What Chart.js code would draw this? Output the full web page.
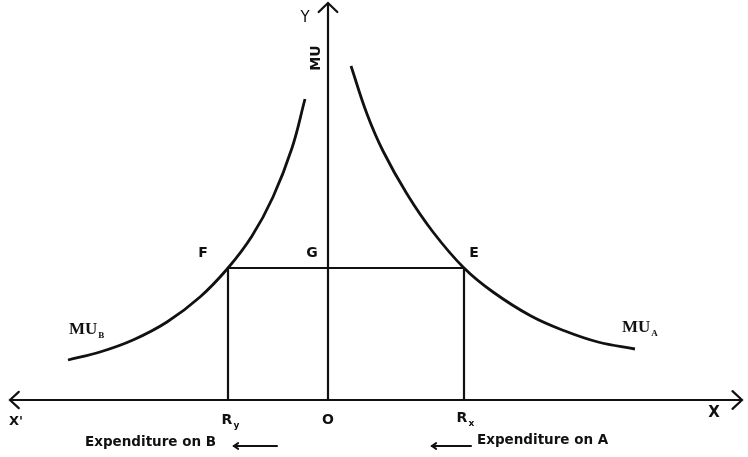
<!DOCTYPE html>
<html>
<head>
<meta charset="utf-8">
<script src="https://cdn.jsdelivr.net/npm/chart.js@4.4.1/dist/chart.umd.min.js"></script>
<style>
  html, body { margin: 0; padding: 0; background: #ffffff; }
  canvas { display: block; }
</style>
</head>
<body>
<canvas id="chart" width="748" height="457"></canvas>
<script>
// expenditure on B runs to the left of O, expenditure on A to the right
const MU_B_SPENDING = [-26.0, -22.8, -19.5, -16.1, -12.8, -10.0, -7.6, -5.5, -3.6, -2.3];
const MU_B_UTILITY  = [4.0, 4.8, 6.0, 7.8, 10.3, 13.2, 16.4, 20.3, 25.2, 30.1];

const MU_A_SPENDING = [2.3, 3.9, 5.5, 7.9, 10.5, 13.6, 16.5, 20.3, 23.7, 27.0, 30.7];
const MU_A_UTILITY  = [33.4, 28.6, 24.9, 20.6, 16.8, 13.2, 10.8, 8.4, 6.9, 5.8, 5.1];

const R_Y = -10.0;
const R_X = 13.6;
const G_LEVEL = 13.2;

const X_AXIS_SPAN = [-31.8, 41.4];
const Y_AXIS_TOP = 39.7;

const INK = '#111111';
const SANS = '"DejaVu Sans", Arial, sans-serif';
const SERIF = '"Liberation Serif", "Times New Roman", serif';

function toPoints(xs, ys) {
  return xs.map((x, i) => ({ x, y: ys[i] }));
}

function lineSet(data, width, curved) {
  return {
    data,
    borderColor: INK,
    borderWidth: width,
    pointRadius: 0,
    tension: curved ? 0.4 : 0,
    fill: false
  };
}

function drawLabel(ctx, text, sub, x, y, font, subFont, align) {
  ctx.font = font;
  ctx.textAlign = align || 'center';
  ctx.textBaseline = 'middle';
  ctx.fillText(text, x, y);
  if (sub) {
    const w = ctx.measureText(text).width;
    const left = align === 'left' ? x + w : x + w / 2;
    ctx.font = subFont;
    ctx.textAlign = 'left';
    ctx.fillText(sub, left + 1, y + 6);
  }
}

function chevron(ctx, tipX, tipY, dx, dy, len, spread) {
  // open arrowhead: two arms going back from the tip
  const ang = Math.atan2(dy, dx);
  ctx.beginPath();
  ctx.moveTo(tipX - len * Math.cos(ang - spread), tipY - len * Math.sin(ang - spread));
  ctx.lineTo(tipX, tipY);
  ctx.lineTo(tipX - len * Math.cos(ang + spread), tipY - len * Math.sin(ang + spread));
  ctx.stroke();
}

const diagramLabels = {
  id: 'diagramLabels',
  afterDatasetsDraw(chart) {
    const { ctx, scales } = chart;
    const px = (v) => scales.x.getPixelForValue(v);
    const py = (v) => scales.y.getPixelForValue(v);
    ctx.save();
    ctx.strokeStyle = INK;
    ctx.fillStyle = INK;
    ctx.lineWidth = 2.2;
    ctx.lineCap = 'round';

    chevron(ctx, px(X_AXIS_SPAN[1]), py(0), 1, 0, 13, 0.75);
    chevron(ctx, px(X_AXIS_SPAN[0]), py(0), -1, 0, 12, 0.75);
    chevron(ctx, px(0), py(Y_AXIS_TOP), 0, -1, 13, 0.8);

    // small arrows next to the expenditure captions
    ctx.lineWidth = 2;
    ctx.beginPath();
    ctx.moveTo(px(-5.1), py(-4.6));
    ctx.lineTo(px(-9.4), py(-4.6));
    ctx.stroke();
    chevron(ctx, px(-9.4), py(-4.6), -1, 0, 5, 0.6);
    ctx.beginPath();
    ctx.moveTo(px(14.3), py(-4.6));
    ctx.lineTo(px(10.4), py(-4.6));
    ctx.stroke();
    chevron(ctx, px(10.4), py(-4.6), -1, 0, 5, 0.6);

    const bold = `bold 14px ${SANS}`;
    const small = `bold 9px ${SANS}`;
    drawLabel(ctx, 'Y', null, px(-2.3), py(38.2), `15px ${SANS}`);
    drawLabel(ctx, 'F', null, px(-12.5), py(14.7), bold);
    drawLabel(ctx, 'G', null, px(-1.6), py(14.7), bold);
    drawLabel(ctx, 'E', null, px(14.6), py(14.7), bold);
    drawLabel(ctx, 'X\'', null, px(-31.2), py(-2.2), `bold 13px ${SANS}`);
    drawLabel(ctx, 'R', 'y', px(-10.1), py(-2.0), bold, small);
    drawLabel(ctx, 'O', null, px(0), py(-2.0), bold);
    drawLabel(ctx, 'R', 'x', px(13.4), py(-1.8), bold, small);
    drawLabel(ctx, 'X', null, px(38.6), py(-1.3), `bold 15px ${SANS}`);
    drawLabel(ctx, 'Expenditure on B', null, px(-24.3), py(-4.2), `bold 13.5px ${SANS}`, null, 'left');
    drawLabel(ctx, 'Expenditure on A', null, px(14.9), py(-4.0), `bold 13.5px ${SANS}`, null, 'left');
    drawLabel(ctx, 'MU', 'B', px(-25.9), py(7.0), `bold 17px ${SERIF}`, `bold 9px ${SERIF}`, 'left');
    drawLabel(ctx, 'MU', 'A', px(29.4), py(7.2), `bold 17px ${SERIF}`, `bold 9px ${SERIF}`, 'left');

    ctx.translate(px(-1.2), py(34.2));
    ctx.rotate(-Math.PI / 2);
    drawLabel(ctx, 'MU', null, 0, 0, bold);
    ctx.restore();
  }
};

new Chart(document.getElementById('chart').getContext('2d'), {
  type: 'line',
  data: {
    datasets: [
      lineSet([{ x: X_AXIS_SPAN[0], y: 0 }, { x: X_AXIS_SPAN[1], y: 0 }], 2.2, false),
      lineSet([{ x: 0, y: 0 }, { x: 0, y: Y_AXIS_TOP }], 2.2, false),
      lineSet(toPoints(MU_B_SPENDING, MU_B_UTILITY), 2.8, true),
      lineSet(toPoints(MU_A_SPENDING, MU_A_UTILITY), 2.8, true),
      lineSet([
        { x: R_Y, y: 0 }, { x: R_Y, y: G_LEVEL },
        { x: R_X, y: G_LEVEL }, { x: R_X, y: 0 }
      ], 2.2, false)
    ]
  },
  options: {
    responsive: false,
    animation: false,
    devicePixelRatio: 1,
    layout: { padding: 0 },
    plugins: {
      legend: { display: false },
      tooltip: { enabled: false }
    },
    scales: {
      x: { type: 'linear', min: -32.8, max: 42.0, display: false },
      y: { type: 'linear', min: -5.7, max: 40.0, display: false }
    }
  },
  plugins: [diagramLabels]
});
</script>
</body>
</html>
